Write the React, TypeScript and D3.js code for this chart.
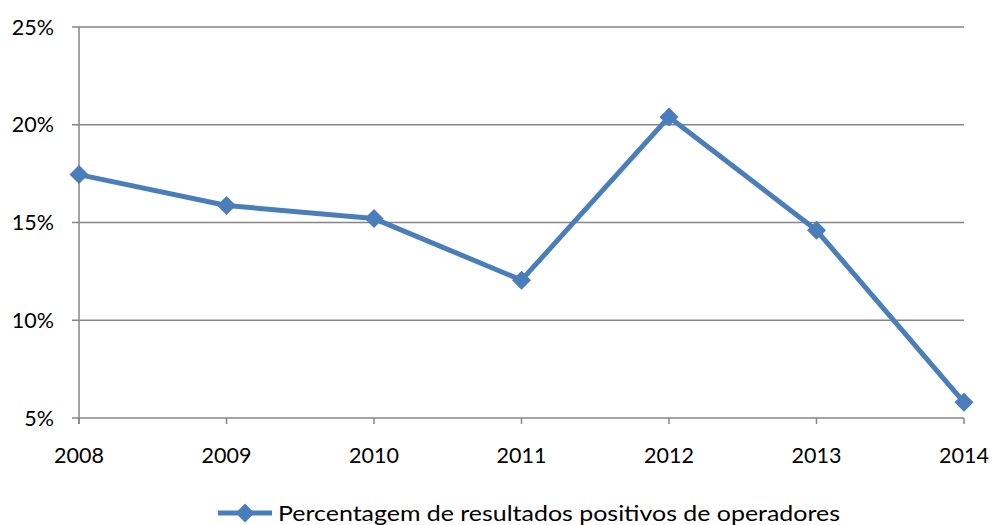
import React from "react";
import * as d3 from "d3";

const years = ["2008", "2009", "2010", "2011", "2012", "2013", "2014"];
const values = [17.45, 15.87, 15.2, 12.05, 20.4, 14.6, 5.8];
const yTicks = [5, 10, 15, 20, 25];
const seriesName = "Percentagem de resultados positivos de operadores";

export default function App() {
  const W = 993, H = 525;
  const left = 79, right = 964, top = 27, bottom = 418;
  const x = d3.scalePoint<string>().domain(years).range([left, right]);
  const y = d3.scaleLinear().domain([5, 25]).range([bottom, top]);
  const line = d3.line<number>().x((_, i) => x(years[i])!).y((d) => y(d));
  const color = "#4a7ebb";
  const grid = "#868686";
  const font = "Lato, 'Open Sans', sans-serif";
  const diamond = (cx: number, cy: number, r: number) =>
    `M${cx},${cy - r}L${cx + r},${cy}L${cx},${cy + r}L${cx - r},${cy}Z`;
  return (
    <svg width={W} height={H} style={{ position: "absolute", left: 0, top: 0, background: "#fff" }}>
      {yTicks.map((t) => (
        <g key={t}>
          <line x1={72} x2={right} y1={y(t)} y2={y(t)} stroke={grid} strokeWidth={1.5} />
          <text x={54} y={y(t) + 7.5} textAnchor="end" fontFamily={font} fontSize={21.5} fill="#000">
            {t}%
          </text>
        </g>
      ))}
      <line x1={left} x2={left} y1={top} y2={bottom + 6} stroke={grid} strokeWidth={1.5} />
      {years.map((yr) => (
        <g key={yr}>
          <line x1={x(yr)!} x2={x(yr)!} y1={bottom} y2={bottom + 6} stroke={grid} strokeWidth={1.5} />
          <text x={x(yr)!} y={463} textAnchor="middle" fontFamily={font} fontSize={21.5} fill="#000">
            {yr}
          </text>
        </g>
      ))}
      <path d={line(values)!} fill="none" stroke={color} strokeWidth={5} strokeLinejoin="round" />
      {values.map((v, i) => (
        <path key={i} d={diamond(x(years[i])!, y(v), 9.5)} fill={color} />
      ))}
      <line x1={218} x2={272} y1={513} y2={513} stroke={color} strokeWidth={5} />
      <path d={diamond(245, 513, 9.5)} fill={color} />
      <text x={278} y={521} fontFamily={font} fontSize={21.5} fill="#000" textLength={562} lengthAdjust="spacingAndGlyphs">
        {seriesName}
      </text>
    </svg>
  );
}
